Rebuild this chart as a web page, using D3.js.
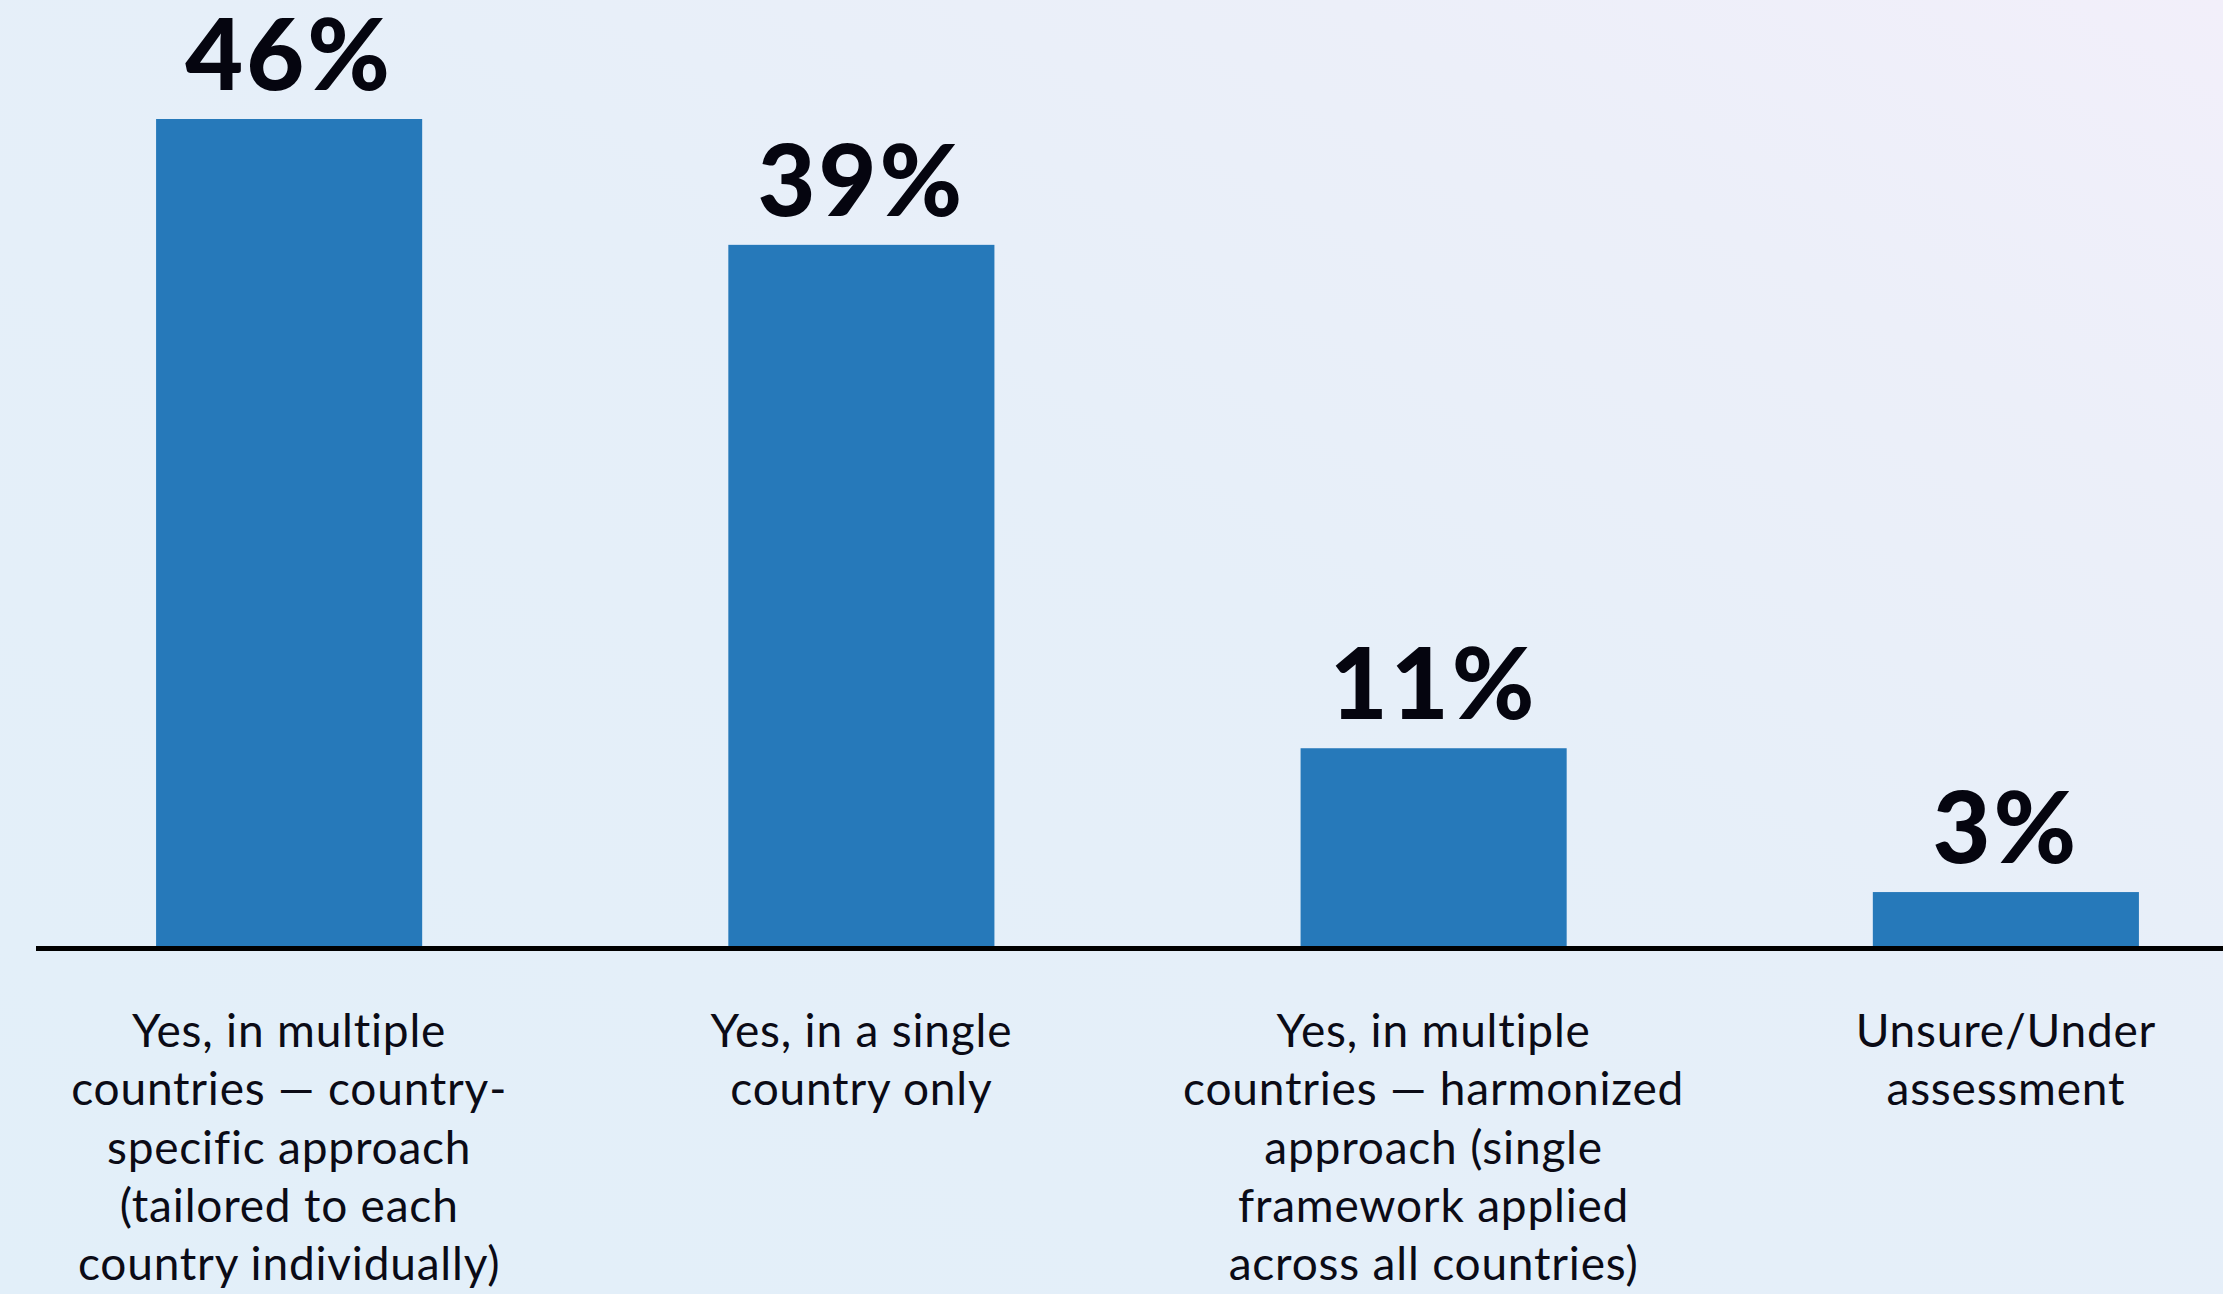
<!DOCTYPE html>
<html>
<head>
<meta charset="utf-8">
<script src="https://cdn.jsdelivr.net/npm/d3@7"></script>
<style>
  html, body { margin: 0; padding: 0; }
  body { width: 2223px; height: 1294px; overflow: hidden; }
</style>
</head>
<body>
<div id="chart"></div>
<script>
// answers and their share of respondents
const categories = [
  "Yes, in multiple countries — country-specific",
  "Yes, in a single country only",
  "Yes, in multiple countries — harmonized",
  "Unsure/Under assessment"
];
const values = [46, 39, 11, 3];
const valueLabels = ["46%", "39%", "11%", "3%"];
const labelLines = [
  ["Yes, in multiple", "countries — country-", "specific approach", "(tailored to each", "country individually)"],
  ["Yes, in a single", "country only"],
  ["Yes, in multiple", "countries — harmonized", "approach (single", "framework applied", "across all countries)"],
  ["Unsure/Under", "assessment"]
];

const width = 2223,
      height = 1294,
      baseline = 946,
      barColor = "#2679ba",
      textColor = "#0b0b16";

const svg = d3.select("#chart").append("svg")
    .attr("width", width)
    .attr("height", height);

// soft blue -> lilac background
const defs = svg.append("defs");
const grad = defs.append("linearGradient")
    .attr("id", "bg")
    .attr("x1", "0").attr("y1", "1")
    .attr("x2", "1").attr("y2", "0");
grad.append("stop").attr("offset", "0").attr("stop-color", "#e2eff9");
grad.append("stop").attr("offset", "0.55").attr("stop-color", "#e6eff9");
grad.append("stop").attr("offset", "0.8").attr("stop-color", "#eceff9");
grad.append("stop").attr("offset", "1").attr("stop-color", "#f2effa");

svg.append("rect")
    .attr("width", width)
    .attr("height", height)
    .attr("fill", "url(#bg)");

//Set up scales
const x = d3.scaleBand()
    .domain(categories)
    .range([3, 2292])
    .paddingInner(0.535)
    .paddingOuter(0.2675);

const y = d3.scaleLinear()
    .domain([0, 46])
    .range([baseline, 119]);

//bars
svg.selectAll("rect.bar")
    .data(categories)
    .enter()
    .append("rect")
    .attr("class", "bar")
    .attr("x", d => x(d))
    .attr("y", (d, i) => y(values[i]))
    .attr("width", x.bandwidth())
    .attr("height", (d, i) => y(0) - y(values[i]))
    .attr("fill", barColor);

//value labels
svg.selectAll("text.value")
    .data(categories)
    .enter()
    .append("text")
    .attr("class", "value")
    .attr("x", d => x(d) + x.bandwidth() / 2)
    .attr("y", (d, i) => y(values[i]) - 29)
    .attr("text-anchor", "middle")
    .style("font-family", "Lato, sans-serif")
    .style("font-weight", 900)
    .style("font-size", "100px")
    .style("letter-spacing", "3px")
    .attr("fill", "#05050f")
    .text((d, i) => valueLabels[i]);

// baseline
svg.append("line")
    .attr("x1", 36)
    .attr("x2", width)
    .attr("y1", y(0) + 2.5)
    .attr("y2", y(0) + 2.5)
    .attr("stroke", "#000")
    .attr("stroke-width", 5);

//category labels, wrapped like the original
const cat = svg.selectAll("text.category")
    .data(categories)
    .enter()
    .append("text")
    .attr("class", "category")
    .attr("text-anchor", "middle")
    .style("font-family", "Lato, sans-serif")
    .style("font-size", "46px")
    .style("letter-spacing", "0.8px")
    .attr("fill", textColor);

cat.each(function(d, i) {
    const t = d3.select(this);
    labelLines[i].forEach((line, j) => {
        t.append("tspan")
            .attr("x", x(d) + x.bandwidth() / 2)
            .attr("y", 1047 + j * 58.3)
            .text(line);
    });
});
</script>
</body>
</html>
